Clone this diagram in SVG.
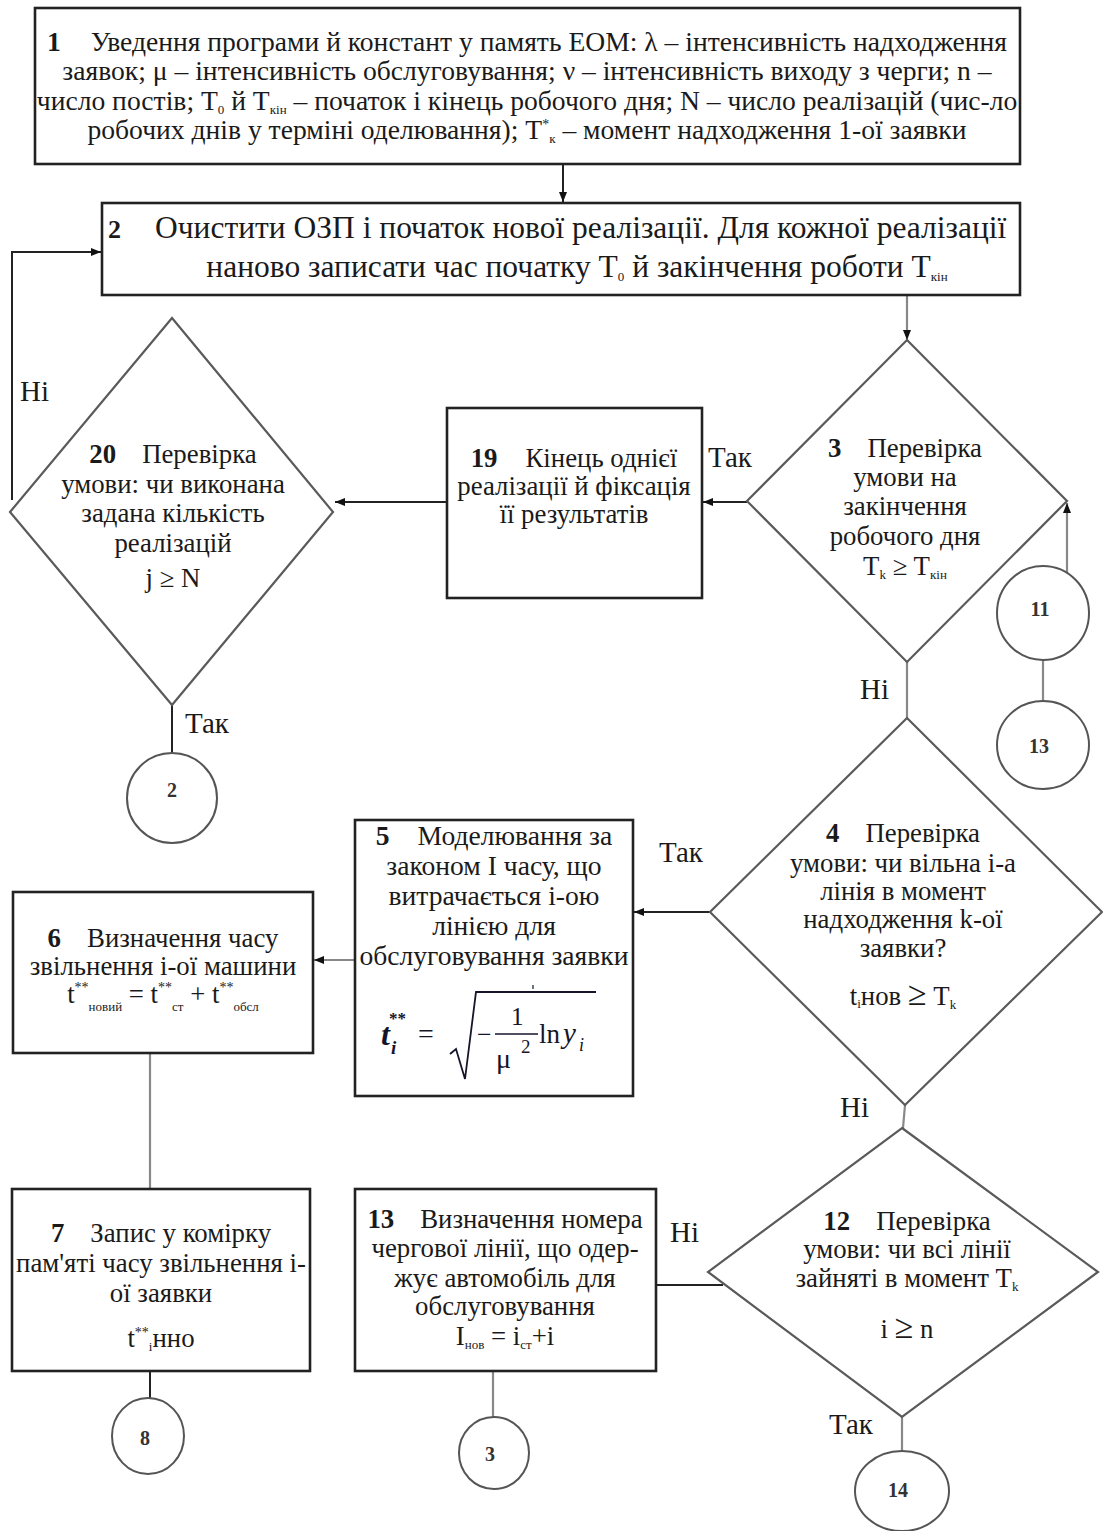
<svg xmlns="http://www.w3.org/2000/svg" width="1103" height="1531" viewBox="0 0 1103 1531">
<style>
text{font-family:"Liberation Serif","Times New Roman",serif;fill:#1a1a1a;}
.t{font-size:26.8px;text-anchor:middle;}
.t1{font-size:27.6px;}
.t5{font-size:27.6px;}
.t2{font-size:31.5px;}
.b{font-weight:bold;}
.lbl{font-size:29px;}
.sub{font-size:13px;}
.sup{font-size:14px;}
.box{fill:#fff;stroke:#222;stroke-width:2.6;}
.dia{fill:#fff;stroke:#5a5a5a;stroke-width:2.2;}
.circ{fill:#fff;stroke:#555;stroke-width:2;}
.cn{font-family:"Liberation Serif",serif;font-size:20px;font-weight:bold;text-anchor:middle;fill:#333;}
.ln{fill:none;stroke:#222;stroke-width:2;}
.lg{fill:none;stroke:#888;stroke-width:2.2;}
.big{font-size:34px;}
.fm{fill:#15152a;}
</style>
<defs>
<marker id="ah" viewBox="0 0 10 8" refX="10" refY="4" markerWidth="10" markerHeight="8" markerUnits="userSpaceOnUse" orient="auto">
<path d="M0,0 L10,4 L0,8 z" fill="#111"/>
</marker>
</defs>

<g id="connectors">
<line class="ln" x1="563" y1="165" x2="563" y2="202" marker-end="url(#ah)"/>
<line class="lg" x1="907" y1="296" x2="907" y2="340" marker-end="url(#ah)"/>
<line class="ln" x1="747" y1="502" x2="703" y2="502" marker-end="url(#ah)"/>
<line class="ln" x1="447" y1="502" x2="335" y2="502" marker-end="url(#ah)"/>
<polyline class="ln" points="12,500 12,252 101,252" marker-end="url(#ah)"/>
<line class="ln" x1="172" y1="705" x2="172" y2="753"/>
<line class="lg" x1="1067" y1="573" x2="1067" y2="503" marker-end="url(#ah)"/>
<line class="lg" x1="1043" y1="660" x2="1043" y2="701"/>
<line class="lg" x1="907" y1="662" x2="907" y2="718"/>
<line class="ln" x1="710" y1="912" x2="634" y2="912" marker-end="url(#ah)"/>
<line class="lg" x1="355" y1="960" x2="314" y2="960" marker-end="url(#ah)"/>
<line class="lg" x1="150" y1="1053" x2="150" y2="1189"/>
<line class="ln" x1="150" y1="1371" x2="150" y2="1398"/>
<line class="lg" x1="905" y1="1105" x2="903" y2="1128"/>
<line class="ln" x1="723" y1="1285" x2="656" y2="1285"/>
<line class="lg" x1="493" y1="1371" x2="493" y2="1418"/>
<line class="lg" x1="902" y1="1417" x2="902" y2="1451"/>
</g>

<g id="labels">
<text class="lbl" x="20" y="401">Ні</text>
<text class="lbl" x="708" y="467">Так</text>
<text class="lbl" x="185" y="733">Так</text>
<text class="lbl" x="860" y="699">Ні</text>
<text class="lbl" x="659" y="862">Так</text>
<text class="lbl" x="840" y="1117">Ні</text>
<text class="lbl" x="670" y="1242">Ні</text>
<text class="lbl" x="829" y="1434">Так</text>
</g>

<g id="n1">
<rect class="box" x="35" y="8" width="985" height="156" stroke-width="3"/>
<text class="t t1" x="527" y="51"><tspan class="b">1</tspan><tspan dx="30">Уведення програми й констант у память ЕОМ: λ – інтенсивність надходження</tspan></text>
<text class="t t1" x="527" y="80">заявок; μ – інтенсивність обслуговування; ν – інтенсивність виходу з черги; n –</text>
<text class="t t1" x="527" y="110">число постів; T<tspan class="sub" dy="4">0</tspan><tspan dy="-4"> й T</tspan><tspan class="sub" dy="4">кін</tspan><tspan dy="-4"> – початок і кінець робочого дня; N – число реалізацій (чис-ло</tspan></text>
<text class="t t1" x="527" y="139">робочих днів у терміні оделювання); T<tspan class="sup" dy="-10">*</tspan><tspan class="sub" dy="14">к</tspan><tspan dy="-4"> – момент надходження 1-ої заявки</tspan></text>
</g>

<g id="n2">
<rect class="box" x="102" y="203" width="918" height="92"/>
<text class="t2" x="108" y="238"><tspan class="b" font-size="26">2</tspan><tspan x="155">Очистити ОЗП і початок нової реалізації. Для кожної реалізації</tspan></text>
<text class="t2" x="577" y="277" text-anchor="middle">наново записати час початку T<tspan class="sub" font-size="15" dy="4">0</tspan><tspan dy="-4"> й закінчення роботи T</tspan><tspan class="sub" font-size="14" dy="4">кін</tspan></text>
</g>

<g id="n3">
<polygon class="dia" points="907,340 1067,501 907,662 747,501"/>
<text class="t" x="905" y="457"><tspan class="b">3</tspan><tspan dx="26">Перевірка</tspan></text>
<text class="t" x="905" y="486">умови на</text>
<text class="t" x="905" y="515">закінчення</text>
<text class="t" x="905" y="545">робочого дня</text>
<text class="t" x="905" y="575">T<tspan class="sub" dy="4">k</tspan><tspan dy="-4">  ≥  T</tspan><tspan class="sub" dy="4">кін</tspan></text>
</g>

<g id="n11">
<ellipse class="circ" cx="1043" cy="613" rx="46" ry="47"/>
<text class="cn" x="1040" y="616">11</text>
</g>
<g id="n13c">
<ellipse class="circ" cx="1043" cy="745" rx="46" ry="44"/>
<text class="cn" x="1039" y="753">13</text>
</g>

<g id="n19">
<rect class="box" x="447" y="408" width="255" height="190"/>
<text class="t" x="574" y="467"><tspan class="b">19</tspan><tspan dx="28">Кінець однієї</tspan></text>
<text class="t" x="574" y="495">реалізації й фіксація</text>
<text class="t" x="574" y="523">її результатів</text>
</g>

<g id="n20">
<polygon class="dia" points="172,318 333,512 172,705 10,512"/>
<text class="t" x="173" y="463"><tspan class="b">20</tspan><tspan dx="26">Перевірка</tspan></text>
<text class="t" x="173" y="493">умови: чи виконана</text>
<text class="t" x="173" y="522">задана кількість</text>
<text class="t" x="173" y="552">реалізацій</text>
<text class="t" x="173" y="587">j ≥ N</text>
</g>

<g id="n2c">
<ellipse class="circ" cx="172" cy="798" rx="45" ry="45"/>
<text class="cn" x="172" y="797">2</text>
</g>

<g id="n4">
<polygon class="dia" points="907,718 1102,912 905,1105 710,912"/>
<text class="t" x="903" y="842"><tspan class="b">4</tspan><tspan dx="26">Перевірка</tspan></text>
<text class="t" x="903" y="872">умови: чи вільна і-а</text>
<text class="t" x="903" y="900">лінія в момент</text>
<text class="t" x="903" y="928">надходження k-ої</text>
<text class="t" x="903" y="957">заявки?</text>
<text class="t" x="903" y="1005">t<tspan class="sub" dy="3">i</tspan><tspan dy="-3">нов </tspan><tspan class="big">≥</tspan><tspan> T</tspan><tspan class="sub" dy="4">k</tspan></text>
</g>

<g id="n5">
<rect class="box" x="355" y="820" width="278" height="276"/>
<text class="t t5" x="494" y="845"><tspan class="b">5</tspan><tspan dx="28">Моделювання за</tspan></text>
<text class="t t5" x="494" y="875">законом І часу, що</text>
<text class="t t5" x="494" y="905">витрачається і-ою</text>
<text class="t t5" x="494" y="935">лінією для</text>
<text class="t t5" x="494" y="965">обслуговування заявки</text>
<g class="fm">
<text x="381" y="1045" font-size="32" font-style="italic" font-weight="bold" class="fm">t</text>
<text x="389" y="1024" font-size="17" font-weight="bold" class="fm">**</text>
<text x="391" y="1054" font-size="19" font-style="italic" font-weight="bold" class="fm">i</text>
<text x="418" y="1043" font-size="28" class="fm">=</text>
<path d="M450,1054 L456,1049 L465,1079 L476,992 L596,992" fill="none" stroke="#15152a" stroke-width="1.8"/>
<line x1="533" y1="985" x2="533" y2="989" stroke="#15152a" stroke-width="1.2"/>
<text x="477" y="1043" font-size="26" class="fm">−</text>
<text x="511" y="1025" font-size="25" class="fm">1</text>
<line x1="495" y1="1034" x2="538" y2="1034" stroke="#15152a" stroke-width="1.6"/>
<text x="496" y="1068" font-size="28" class="fm">μ</text>
<text x="521" y="1053" font-size="19" class="fm">2</text>
<text x="539" y="1043" font-size="27" class="fm">ln</text>
<text x="563" y="1043" font-size="29" font-style="italic" class="fm">y</text>
<text x="579" y="1051" font-size="18" font-style="italic" class="fm">i</text>
</g>
</g>

<g id="n6">
<rect class="box" x="13" y="892" width="300" height="161"/>
<text class="t" x="163" y="947"><tspan class="b">6</tspan><tspan dx="26">Визначення часу</tspan></text>
<text class="t" x="163" y="975">звільнення і-ої машини</text>
<text class="t" x="163" y="1003" font-size="30">t<tspan class="sup" dy="-11">**</tspan><tspan class="sub" dy="19">новий</tspan><tspan dy="-8"> = t</tspan><tspan class="sup" dy="-11">**</tspan><tspan class="sub" dy="19">ст</tspan><tspan dy="-8"> + t</tspan><tspan class="sup" dy="-11">**</tspan><tspan class="sub" dy="19">обсл</tspan></text>
</g>

<g id="n7">
<rect class="box" x="12" y="1189" width="298" height="182"/>
<text class="t" x="161" y="1242"><tspan class="b">7</tspan><tspan dx="26">Запис у комірку</tspan></text>
<text class="t" x="161" y="1272">пам'яті часу звільнення і-</text>
<text class="t" x="161" y="1302">ої заявки</text>
<text class="t" x="161" y="1347">t<tspan class="sup" dy="-10">**</tspan><tspan class="sub" dy="14">i</tspan><tspan dy="-4">нно</tspan></text>
</g>

<g id="n8c">
<ellipse class="circ" cx="148" cy="1436" rx="36" ry="38"/>
<text class="cn" x="145" y="1445">8</text>
</g>

<g id="n13">
<rect class="box" x="355" y="1189" width="301" height="182"/>
<text class="t" x="505" y="1228"><tspan class="b">13</tspan><tspan dx="26">Визначення номера</tspan></text>
<text class="t" x="505" y="1257">чергової лінії, що одер-</text>
<text class="t" x="505" y="1287">жує автомобіль для</text>
<text class="t" x="505" y="1315">обслуговування</text>
<text class="t" x="505" y="1345">I<tspan class="sub" dy="4">нов</tspan><tspan dy="-4"> = i</tspan><tspan class="sub" dy="4">ст</tspan><tspan dy="-4">+i</tspan></text>
</g>

<g id="n3c">
<ellipse class="circ" cx="494" cy="1453" rx="35" ry="36"/>
<text class="cn" x="490" y="1461">3</text>
</g>

<g id="n12">
<polygon class="dia" points="902,1128 1098,1272 902,1417 708,1272"/>
<text class="t" x="907" y="1230"><tspan class="b">12</tspan><tspan dx="26">Перевірка</tspan></text>
<text class="t" x="907" y="1258">умови: чи всі лінії</text>
<text class="t" x="907" y="1287">зайняті в момент T<tspan class="sub" dy="4">k</tspan></text>
<text class="t" x="907" y="1338">i <tspan class="big">≥</tspan> n</text>
</g>

<g id="n14c">
<ellipse class="circ" cx="902" cy="1491" rx="47" ry="40"/>
<text class="cn" x="898" y="1497">14</text>
</g>
</svg>
